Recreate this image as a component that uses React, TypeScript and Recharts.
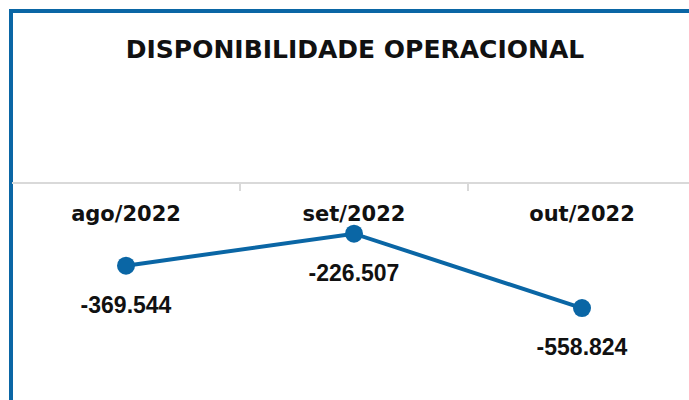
import { LineChart, Line, XAxis, YAxis, LabelList } from 'recharts'

const categories = ['ago/2022', 'set/2022', 'out/2022']
const values = [-369544, -226507, -558824]
const bandTicks = [1, 2]

const BLUE = '#0A66A5'
const data = categories.map((c, i) => ({ x: i + 0.5, label: c, value: values[i] }))

const fmt = (v: number) => {
  const s = Math.abs(v).toString().replace(/\B(?=(\d{3})+(?!\d))/g, '.')
  return (v < 0 ? '-' : '') + s
}

function CategoryTick(props: any) {
  const { x, y, payload } = props
  const idx = Math.floor(payload.value)
  return (
    <text
      x={x}
      y={y + 30}
      textAnchor="middle"
      fontFamily="'DejaVu Sans', sans-serif"
      fontWeight="bold"
      fontSize={21}
      fill="#111"
    >
      {categories[idx]}
    </text>
  )
}

function EmptyTick() {
  return <g />
}

function ValueLabel(props: any) {
  const { x, y, value } = props
  return (
    <text
      x={x}
      y={y + 47}
      textAnchor="middle"
      fontFamily="'Liberation Sans', Arial, sans-serif"
      fontWeight="bold"
      fontSize={23}
      fill="#111"
    >
      {fmt(value)}
    </text>
  )
}

export default function App() {
  return (
    <div
      style={{
        position: 'fixed',
        left: 0,
        top: 0,
        width: 689,
        height: 400,
        overflow: 'hidden',
        background: '#fff',
      }}
    >
      <div
        style={{
          position: 'absolute',
          left: 9,
          top: 9,
          width: 720,
          height: 420,
          borderLeft: `4px solid ${BLUE}`,
          borderTop: `4px solid ${BLUE}`,
        }}
      />
      <div
        style={{
          position: 'absolute',
          left: 0,
          top: 35,
          width: 710,
          textAlign: 'center',
          fontFamily: "'DejaVu Sans', sans-serif",
          fontWeight: 'bold',
          fontSize: 25,
          color: '#111',
        }}
      >
        DISPONIBILIDADE OPERACIONAL
      </div>
      <div style={{ position: 'absolute', left: 0, top: 0 }}>
        <LineChart
          width={700}
          height={400}
          data={data}
          margin={{ top: 183, right: 4, left: 12, bottom: 38 }}
        >
          <XAxis
            xAxisId="cat"
            type="number"
            dataKey="x"
            domain={[0, 3]}
            ticks={[0.5, 1.5, 2.5]}
            orientation="top"
            height={1}
            mirror
            axisLine={{ stroke: '#d9d9d9', strokeWidth: 2 }}
            tickLine={false}
            tick={<CategoryTick />}
          />
          <XAxis
            xAxisId="grid"
            type="number"
            dataKey="x"
            domain={[0, 3]}
            ticks={bandTicks}
            orientation="top"
            height={1}
            mirror
            axisLine={false}
            tickSize={7}
            tickLine={{ stroke: '#d9d9d9', strokeWidth: 2 }}
            tick={<EmptyTick />}
          />
          <YAxis hide domain={[-800000, 0]} />
          <Line
            xAxisId="cat"
            dataKey="value"
            stroke={BLUE}
            strokeWidth={4}
            dot={{ r: 9, fill: BLUE, stroke: 'none' }}
            activeDot={false}
            isAnimationActive={false}
          >
            <LabelList dataKey="value" content={<ValueLabel />} />
          </Line>
        </LineChart>
      </div>
    </div>
  )
}
